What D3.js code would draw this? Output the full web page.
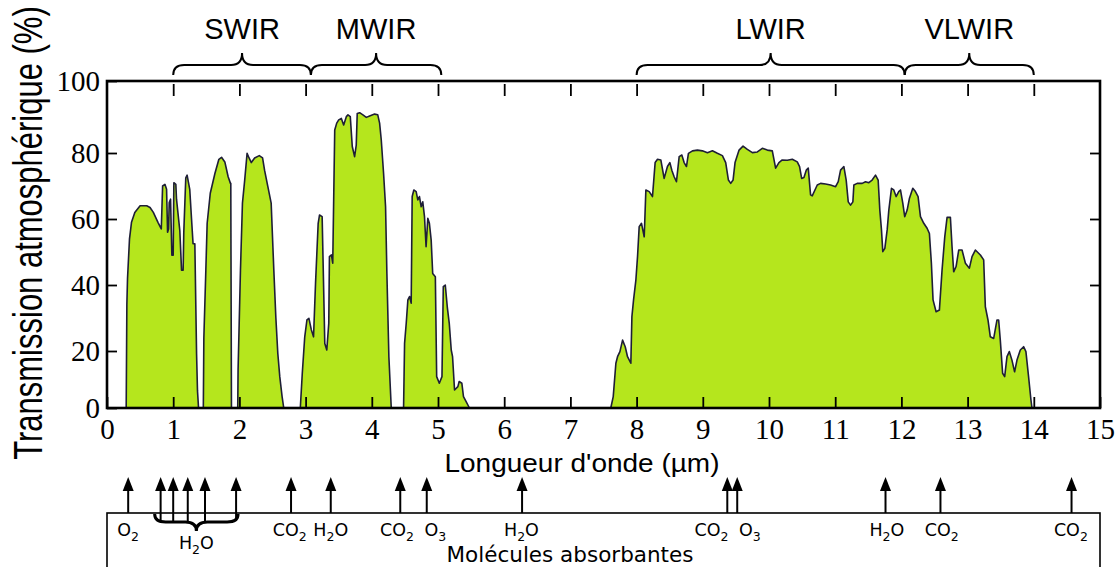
<!DOCTYPE html>
<meta charset="utf-8">
<script src="https://d3js.org/d3.v7.min.js"></script>
<style>
  body { margin: 0; background: #fff; }
</style>
<div id="chart"></div>
<script>

// transmission spectrum: wavelength (µm) and transmission (%)
const wavelength = [
  0, 0.28, 0.29, 0.30, 0.31, 0.34, 0.37, 0.42, 0.50, 0.60, 0.65, 0.70, 0.77, 0.82, 0.84, 0.875, 0.90, 0.915, 0.93, 0.94,
  0.96, 0.98, 1.0, 1.01, 1.04, 1.05, 1.10, 1.126, 1.15, 1.16, 1.19, 1.21, 1.25, 1.277, 1.30, 1.327, 1.353, 1.367, 1.383,
  1.455, 1.463, 1.493, 1.513, 1.56, 1.63, 1.69, 1.73, 1.78, 1.83, 1.865, 1.87, 1.88,
  1.975, 1.98, 2.016, 2.046, 2.08, 2.116, 2.146, 2.18, 2.23, 2.30, 2.35, 2.38, 2.43, 2.48, 2.52, 2.55, 2.58, 2.61, 2.645, 2.67,
  2.92, 2.95, 2.987, 3.02, 3.05, 3.087, 3.12, 3.15, 3.19, 3.21, 3.25, 3.29, 3.32, 3.35, 3.36, 3.39, 3.41, 3.44, 3.47, 3.50,
  3.54, 3.575, 3.615, 3.64, 3.675, 3.705, 3.74, 3.765, 3.78, 3.816, 3.866, 3.917, 3.967, 4.042, 4.09, 4.118, 4.143, 4.178,
  4.208, 4.228, 4.258, 4.294,
  4.48, 4.495, 4.52, 4.545, 4.57, 4.595, 4.61, 4.635, 4.67, 4.695, 4.72, 4.746, 4.77, 4.796, 4.82, 4.846, 4.87, 4.897, 4.92,
  4.96, 4.98, 5.02, 5.06, 5.08, 5.11, 5.14, 5.17, 5.20, 5.22, 5.25, 5.30, 5.32, 5.36, 5.385, 5.425, 5.475,
  7.61, 7.647, 7.687, 7.712, 7.748, 7.788, 7.828, 7.863, 7.913, 7.929, 7.954, 7.989, 8.014, 8.039, 8.074, 8.115, 8.14, 8.19,
  8.24, 8.28, 8.316, 8.366, 8.416, 8.466, 8.502, 8.532, 8.567, 8.602, 8.643, 8.683, 8.718, 8.753, 8.783, 8.844, 8.919, 8.994,
  9.07, 9.145, 9.22, 9.296, 9.346, 9.387, 9.422, 9.457, 9.487, 9.548, 9.608, 9.673, 9.749, 9.824, 9.899, 9.975, 10.05, 10.10,
  10.15, 10.20, 10.276, 10.352, 10.427, 10.462, 10.493, 10.528, 10.563, 10.593, 10.628, 10.653, 10.694, 10.729, 10.779, 10.855,
  10.93, 11.006, 11.046, 11.081, 11.131, 11.166, 11.197, 11.232, 11.267, 11.282, 11.332, 11.408, 11.458, 11.508, 11.558, 11.609,
  11.649, 11.674, 11.699, 11.719, 11.75, 11.785, 11.81, 11.85, 11.885, 11.92, 11.96, 11.986, 12.021, 12.05, 12.087, 12.122,
  12.172, 12.212, 12.252, 12.288, 12.338, 12.388, 12.423, 12.453, 12.478, 12.524, 12.574, 12.614, 12.655, 12.69, 12.74, 12.765,
  12.79, 12.826, 12.866, 12.916, 12.967, 13.027, 13.067, 13.117, 13.193, 13.243, 13.268, 13.308, 13.343, 13.394, 13.444, 13.469,
  13.494, 13.529, 13.56, 13.595, 13.63, 13.67, 13.71, 13.746, 13.796, 13.846, 13.881, 13.921, 13.957, 13.972, 15
];
const transmission = [
  0, 0, 0, 34, 42, 54, 59, 62, 64, 64, 63.5, 62, 59, 57, 70, 70.5, 69, 56, 57, 65,
  66, 49, 49, 71, 70.5, 66, 56.5, 44.5, 44.5, 56, 72.5, 73.3, 69, 60, 52.5, 52.5, 19, 6, 0,
  0, 24, 44.5, 58.7, 67.8, 73.8, 78.1, 78.7, 77.3, 72.8, 70.8, 70.8, 0,
  0, 13.3, 44.5, 64.8, 71.8, 79.9, 78.5, 77.1, 78.5, 79.2, 78.5, 74.8, 69.8, 64.8, 44.5, 30.4, 19.2, 11, 4, 0,
  0, 12.2, 24.3, 29.4, 29.9, 26.4, 24.3, 40.5, 58.7, 61.2, 60.7, 22.3, 20.3, 28.4, 48.6, 49.1, 46.6, 86.4, 88.3, 89.2,
  89.6, 87.8, 90.1, 90.6, 90.1, 81.8, 78.9, 82.2, 91.0, 91.2, 90.6, 89.9, 90.3, 90.8, 90.6, 88.3, 83.6, 73.8,
  63.7, 43.5, 18.0, 0,
  0, 22.3, 28.4, 35.5, 36.5, 34.5, 66.8, 68.8, 68.3, 65.8, 66.8, 63.7, 65.2, 60.7, 51.6, 60.2, 58.7, 53.6, 43.5,
  42.5, 11, 8.7, 11, 39.5, 40, 33.4, 28.4, 20.3, 18, 6.3, 7.5, 9.3, 8.7, 4, 2.2, 0,
  0, 4, 15.7, 18, 19.8, 23.3, 21.3, 18, 15.7, 30.4, 35.5, 41.5, 48.6, 57.7, 58.7, 54.6, 68.8, 68.3,
  66.8, 77.1, 78.1, 77.9, 72.3, 75.9, 77.1, 74.8, 72.8, 71.3, 78.9, 79.4, 77.1, 75.9, 79.9, 80.6, 80.8, 80.6,
  80.1, 80.6, 79.9, 79.2, 77.1, 71.8, 70.8, 71.8, 77.1, 80.8, 81.9, 81.0, 80.1, 80.3, 81.3, 80.8, 80.6, 75.4,
  77.1, 77.9, 77.8, 78.1, 77.3, 75.9, 72.3, 72.6, 74.8, 75.4, 67.3, 67.0, 68.8, 70.3, 70.8, 70.6,
  70.3, 69.8, 71.3, 74.8, 75.9, 71.8, 65.2, 64.2, 65.2, 70.3, 70.8, 70.8, 71.3, 71.0, 71.8, 73.3,
  71.8, 62.7, 56.7, 50.1, 51.1, 56.7, 62.7, 69.3, 68.8, 66.8, 68.3, 68.8, 64.8, 60.7, 62.7, 66.3,
  69.3, 68.3, 66.8, 60.7, 58.7, 57.2, 55.6, 46.6, 35.5, 31.9, 32.4, 44.5, 54.6, 60.5, 60.5, 51.6,
  44.0, 45.6, 50.6, 50.6, 46.6, 45.1, 48.6, 50.6, 49.1, 47.6, 33.4, 29.4, 24.3, 23.8, 29.4, 29.4,
  23.3, 12.2, 11.0, 18.0, 19.8, 16.8, 12.7, 16.8, 20.3, 21.3, 19.8, 11.0, 2.8, 0, 0
];

const xTicks = d3.range(0, 16);
const yTicks = [0, 20, 40, 60, 80, 100];

// infrared bands (braces above the plot)
const bandNames = ["SWIR", "MWIR", "LWIR", "VLWIR"];
const bandStart = [1.0, 3.08, 8.0, 12.05];
const bandEnd = [3.08, 5.05, 12.05, 14.0];

// absorbing molecules (arrows under the plot)
const arrowAt = [0.32, 0.81, 1.0, 1.22, 1.48, 1.95, 2.78, 3.38, 4.43, 4.83, 6.27, 9.37, 9.52, 11.76, 12.59, 14.57];
const moleculeNames = ["O2", "CO2", "H2O", "CO2", "O3", "H2O", "CO2", "O3", "H2O", "CO2", "CO2"];
const moleculeAt = [0.32, 2.76, 3.38, 4.38, 4.96, 6.26, 9.13, 9.71, 11.78, 12.61, 14.56];
const groupName = "H2O";
const groupStart = 0.72;
const groupEnd = 1.98;

// layout
const width = 1115, height = 567;
const plot = {left: 107, right: 1100, top: 81, bottom: 408};

const svg = d3.select("#chart")
  .append("svg")
    .attr("width", width)
    .attr("height", height);

const x = d3.scaleLinear().domain([0, 15]).range([plot.left, plot.right]);
// the printed y axis is not evenly spaced, so each tick gets its own stop
const y = d3.scaleLinear().domain(yTicks).range([408, 351, 285, 219, 153, 81]);

const data = wavelength.map((w, i) => ({w: w, t: transmission[i]}));

// filled transmission curve
svg.append("path")
  .datum(data)
  .attr("fill", "#b5e61d")
  .attr("d", d3.area().x(d => x(d.w)).y0(y(0)).y1(d => y(d.t)));

svg.append("path")
  .datum(data)
  .attr("fill", "none")
  .attr("stroke", "#1e1e36")
  .attr("stroke-width", 1.6)
  .attr("stroke-linejoin", "round")
  .attr("d", d3.line().x(d => x(d.w)).y(d => y(d.t)));

// axes with inward ticks
const serif = "'Liberation Serif', 'Times New Roman', serif";

svg.append("g")
  .attr("transform", `translate(0, ${plot.bottom})`)
  .call(d3.axisBottom(x).tickValues(xTicks).tickSize(-11).tickPadding(10))
  .call(g => g.select(".domain").remove())
  .attr("font-family", serif)
  .attr("font-size", 29)
  .call(g => g.selectAll("line").attr("stroke-width", 1.8));

// y labels are a little wider in the original print
svg.append("g")
  .attr("transform", `translate(${plot.left}, 0)`)
  .call(d3.axisLeft(y).tickValues(yTicks).tickSize(-10).tickPadding(7))
  .call(g => g.select(".domain").remove())
  .attr("font-family", serif)
  .attr("font-size", 29)
  .call(g => g.selectAll("line").attr("stroke-width", 1.8))
  .call(g => g.selectAll("text")
    .attr("textLength", d => String(d).length * 14.5)
    .attr("lengthAdjust", "spacingAndGlyphs"));

svg.append("g")
  .attr("transform", `translate(0, ${plot.top + 3})`)
  .call(d3.axisTop(x).tickValues(d3.range(1, 15)).tickSize(-12).tickFormat(""))
  .call(g => g.select(".domain").remove())
  .call(g => g.selectAll("line").attr("stroke-width", 1.8));

svg.append("g")
  .attr("transform", `translate(${plot.right}, 0)`)
  .call(d3.axisRight(y).tickValues([20, 40, 60, 80]).tickSize(-10).tickFormat(""))
  .call(g => g.select(".domain").remove())
  .call(g => g.selectAll("line").attr("stroke-width", 1.8));

// frame
svg.append("rect")
  .attr("x", plot.left)
  .attr("y", plot.top)
  .attr("width", plot.right - plot.left)
  .attr("height", plot.bottom - plot.top)
  .attr("fill", "none")
  .attr("stroke", "#000")
  .attr("stroke-width", 2.6);

// axis titles
const sans = "'Liberation Sans', Arial, sans-serif";

svg.append("text")
  .attr("transform", "translate(42, 233) rotate(-90) scale(1, 1.3)")
  .attr("text-anchor", "middle")
  .attr("font-family", sans)
  .attr("font-size", 31)
  .text("Transmission atmosphérique (%)");

svg.append("text")
  .attr("x", 582)
  .attr("y", 472)
  .attr("text-anchor", "middle")
  .attr("font-family", sans)
  .attr("font-size", 25)
  .attr("textLength", 275)
  .attr("lengthAdjust", "spacingAndGlyphs")
  .text("Longueur d'onde (µm)");

// curly brace from x0 to x1; tip, flat part and peak heights
function brace(x0, x1, yTip, yMid, yPeak) {
  const xm = (x0 + x1) / 2, r = 11;
  return `M${x0},${yTip} Q${x0},${yMid} ${x0 + r},${yMid} L${xm - r},${yMid} ` +
         `Q${xm},${yMid} ${xm},${yPeak} Q${xm},${yMid} ${xm + r},${yMid} ` +
         `L${x1 - r},${yMid} Q${x1},${yMid} ${x1},${yTip}`;
}

bandNames.forEach((name, i) => {
  const x0 = x(bandStart[i]), x1 = x(bandEnd[i]);
  svg.append("path")
    .attr("d", brace(x0, x1, 75, 65, 53))
    .attr("fill", "none")
    .attr("stroke", "#000")
    .attr("stroke-width", 2);
  svg.append("text")
    .attr("x", (x0 + x1) / 2)
    .attr("y", 39)
    .attr("text-anchor", "middle")
    .attr("font-family", sans)
    .attr("font-size", 29)
    .text(name);
});

// molecules panel
const boxTop = 513;
svg.append("rect")
  .attr("x", plot.left)
  .attr("y", boxTop)
  .attr("width", plot.right - plot.left)
  .attr("height", 80)
  .attr("fill", "none")
  .attr("stroke", "#000")
  .attr("stroke-width", 1.6);

arrowAt.forEach(w => {
  const ax = x(w);
  const inGroup = w >= groupStart && w <= groupEnd;
  svg.append("line")
    .attr("x1", ax).attr("x2", ax)
    .attr("y1", 489).attr("y2", inGroup ? 521 : boxTop)
    .attr("stroke", "#000")
    .attr("stroke-width", 2);
  svg.append("path")
    .attr("d", `M${ax},477 L${ax - 5.5},491 L${ax + 5.5},491 Z`)
    .attr("fill", "#000");
});

svg.append("path")
  .attr("d", brace(x(groupStart), x(groupEnd), 514, 522, 531))
  .attr("fill", "none")
  .attr("stroke", "#000")
  .attr("stroke-width", 3);

const molFont = "'DejaVu Sans', Verdana, sans-serif";

// chemical formula with subscript digits
function formula(sel, name) {
  let sub = false;
  name.match(/[A-Z][a-z]?|\d+/g).forEach(p => {
    const isNum = /\d/.test(p);
    const t = sel.append("tspan").text(p);
    if (isNum && !sub) { t.attr("font-size", 12.5).attr("dy", 5); sub = true; }
    else if (!isNum && sub) { t.attr("dy", -5); sub = false; }
  });
}

moleculeNames.forEach((name, i) => {
  const t = svg.append("text")
    .attr("x", x(moleculeAt[i]))
    .attr("y", 536)
    .attr("text-anchor", "middle")
    .attr("font-family", molFont)
    .attr("font-size", 17.5);
  formula(t, name);
});

const g = svg.append("text")
  .attr("x", (x(groupStart) + x(groupEnd)) / 2)
  .attr("y", 549)
  .attr("text-anchor", "middle")
  .attr("font-family", molFont)
  .attr("font-size", 17.5);
formula(g, groupName);

svg.append("text")
  .attr("x", 570)
  .attr("y", 562)
  .attr("text-anchor", "middle")
  .attr("font-family", molFont)
  .attr("font-size", 21.5)
  .text("Molécules absorbantes");

</script>
